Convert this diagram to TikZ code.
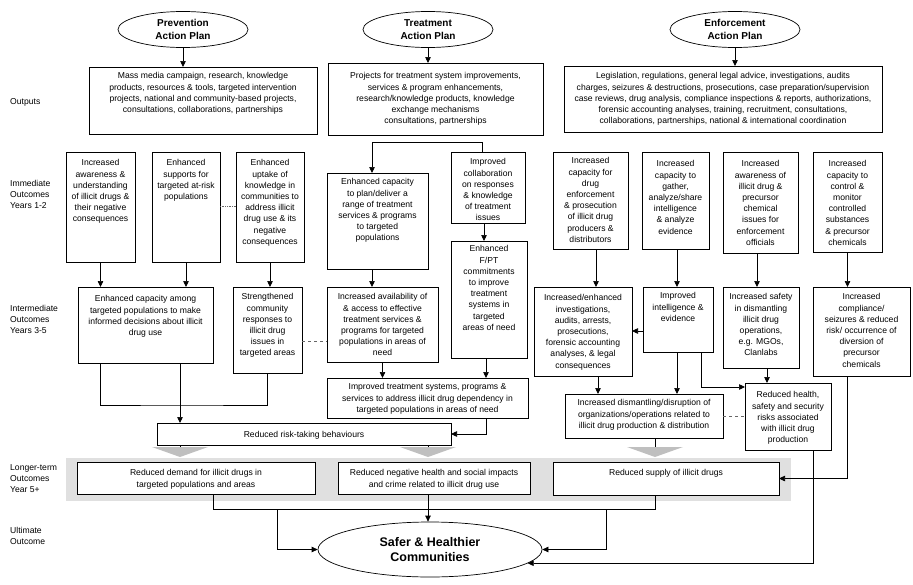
\documentclass[tikz,border=0pt]{standalone}
\usepackage{fontspec}
\setmainfont{Liberation Sans}
\usetikzlibrary{shapes.geometric,arrows.meta}

\newcommand\obox[7][4]{%
  \node[obox,anchor=north west] (#2) at (#3,#4)
    {\parbox[c][\dimexpr#6pt-#4pt\relax][t]{\dimexpr#5pt-#3pt\relax}{\centering\vspace*{#1pt}\strut#7}};}
\newcommand\chev[2]{\fill[chev] (#1-28,#2) -- (#1+28,#2) -- (#1,#2+10) -- cycle;}

\begin{document}
\begin{tikzpicture}[x=1pt,y=-1pt,font=\fontsize{8.6}{11.2}\selectfont,
  obox/.style={draw,fill=white,line width=0.7pt,inner sep=0pt,outer sep=0pt},
  plan/.style={draw,ellipse,line width=0.7pt,inner sep=0pt,minimum width=130pt,minimum height=36pt,align=center,font=\fontsize{10}{12.5}\selectfont\bfseries},
  lbl/.style={anchor=west,align=left,inner sep=0pt},
  band/.style={fill=black!12},
  chev/.style={fill=black!25},
  link/.style={line width=0.7pt},
  arr/.style={link,-{Triangle[length=6pt,width=5.5pt]}},
  dots/.style={line width=0.7pt,densely dotted,black!60},
  dashlink/.style={line width=0.7pt,dashed,black!60}]

\useasboundingbox (0,0) rectangle (913,584);
\fill[band] (66,458) rectangle (791,501);

\node[lbl] (lout) at (10,102) {Outputs};
\node[lbl] (limm) at (10,194.5) {Immediate\\Outcomes\\Years 1-2};
\node[lbl] (lint) at (10,319.5) {Intermediate\\Outcomes\\Years 3-5};
\node[lbl] (llong) at (10,478.5) {Longer-term\\Outcomes\\Year 5+};
\node[lbl] (lult) at (10,536) {Ultimate\\Outcome};

\node[plan] (pplan) at (183,29.5) {Prevention\\Action Plan};
\node[plan] (tplan) at (428,29.5) {Treatment\\Action Plan};
\node[plan] (eplan) at (735,29.5) {Enforcement\\Action Plan};

\obox{pout}{89}{67}{317}{134}{Mass media campaign, research, knowledge\\products, resources \& tools, targeted intervention\\projects, national and community-based projects,\\consultations, collaborations, partnerships}
\obox[8]{tout}{328}{63}{543}{135}{Projects for treatment system improvements,\\services \& program enhancements,\\research/knowledge products, knowledge\\exchange mechanisms\\consultations, partnerships}
\obox[5]{eout}{564}{66}{882}{132}{Legislation, regulations, general legal advice, investigations, audits\\charges, seizures \& destructions, prosecutions, case preparation/supervision\\case reviews, drug analysis, compliance inspections \& reports, authorizations,\\forensic accounting analyses, training, recruitment, consultations,\\collaborations, partnerships, national \& international coordination}

\draw[arr] (pplan.south) -- (pplan.south |- pout.north);
\draw[arr] (tplan.south) -- (tplan.south |- tout.north);
\draw[arr] (eplan.south) -- (eplan.south |- eout.north);

% prevention
\obox[6]{p1}{66}{152}{135}{262}{Increased\\awareness \&\\understanding\\of illicit drugs \&\\their negative\\consequences}
\obox[6]{p2}{152}{152}{220}{262}{Enhanced\\supports for\\targeted at-risk\\populations}
\obox[6]{p3}{236}{152}{304}{262}{Enhanced\\uptake of\\knowledge in\\communities to\\address illicit\\drug use \& its\\negative\\consequences}
\obox[7]{p4}{78}{287}{213}{363}{Enhanced capacity among\\targeted populations to make\\informed decisions about illicit\\drug use}
\obox[5]{p5}{233}{287}{302}{373}{Strengthened\\community\\responses to\\illicit drug\\issues in\\targeted areas}
\obox[7]{risk}{157}{423}{451}{445}{Reduced risk-taking behaviours}

\draw[dots] (p2.east |- 0,206) -- (p3.west |- 0,206);
\draw[arr] (p1.south) -- (p1.south |- p4.north);
\draw[arr] (p2.south) -- (p2.south |- p4.north);
\draw[arr] (p3.south) -- (p3.south |- p5.north);
\coordinate (pj) at (180,405);
\draw[link] (p4.south -| p1.south) |- (pj) -| (p5.south);
\draw[arr] (p4.south -| pj) -- (risk.north -| pj);

% treatment
\obox[4]{t1}{327}{173}{428}{269}{Enhanced capacity\\to plan/deliver a\\range of treatment\\services \& programs\\to targeted\\populations}
\obox[5]{t2}{451}{152}{525}{223}{Improved\\collaboration\\on responses\\\& knowledge\\of treatment\\issues}
\obox[3]{t3}{451}{241}{527}{358}{Enhanced\\F/PT\\commitments\\to improve\\treatment\\systems in\\targeted\\areas of need}
\obox[5]{t4}{327}{287}{438}{362}{Increased availability of\\\& access to effective\\treatment services \&\\programs for targeted\\populations in areas of\\need}
\obox[4]{t5}{327}{378}{528}{418}{Improved treatment systems, programs \&\\services to address illicit drug dependency in\\targeted populations in areas of need}

\coordinate (tfork) at (372,142);
\draw[link] (t2.north -| 482,0) |- (tfork);
\draw[arr] (tfork) -- (t1.north -| tfork);
\draw[arr] (t2.south -| 484,0) -- (t3.north -| 484,0);
\draw[arr] (t1.south -| tfork) -- (t4.north -| tfork);
\draw[arr] (t4.south) -- (t4.south |- t5.north);
\draw[arr] (t3.south -| 486,0) -- (t5.north -| 486,0);
\draw[arr] (t5.south -| 486,0) |- (risk.east);
\draw[dashlink] (p5.east |- 0,341) -- (t4.west |- 0,341);

% enforcement
\obox[4]{e1}{553}{152}{628}{249}{Increased\\capacity for\\drug\\enforcement\\\& prosecution\\of illicit drug\\producers \&\\distributors}
\obox[7]{e2}{642}{152}{709}{249}{Increased\\capacity to\\gather,\\analyze/share\\intelligence\\\& analyze\\evidence}
\obox[7]{e3}{723}{152}{798}{253}{Increased\\awareness of\\illicit drug \&\\precursor\\chemical\\issues for\\enforcement\\officials}
\obox[7]{e4}{813}{152}{882}{252}{Increased\\capacity to\\control \&\\monitor\\controlled\\substances\\\& precursor\\chemicals}
\obox[6]{e5}{534}{287}{632}{376}{Increased/enhanced\\investigations,\\audits, arrests,\\prosecutions,\\forensic accounting\\analyses, \& legal\\consequences}
\obox[4]{e6}{643}{287}{713}{352}{Improved\\intelligence \&\\evidence}
\obox[5]{e7}{723}{287}{799}{368}{Increased safety\\in dismantling\\illicit drug\\operations,\\e.g. MGOs,\\Clanlabs}
\obox[5]{e8}{813}{287}{910}{376}{Increased\\compliance/\\seizures \& reduced\\risk/ occurrence of\\diversion of\\precursor\\chemicals}
\obox[4]{e9}{565}{394}{723}{438}{Increased dismantling/disruption of\\organizations/operations related to\\illicit drug production \& distribution}
\obox[7]{h}{745}{383}{831}{450}{Reduced health,\\safety and security\\risks associated\\with illicit drug\\production}

\draw[arr] (e1.south -| 596,0) -- (e5.north -| 596,0);
\draw[arr] (e2.south -| 677,0) -- (e6.north -| 677,0);
\draw[arr] (e3.south -| 757,0) -- (e7.north -| 757,0);
\draw[arr] (e4.south) -- (e4.south |- e8.north);
\draw[arr] (e6.west |- 0,331) -- (e5.east |- 0,331);
\draw[arr] (e5.south -| 598,0) -- (e9.north -| 598,0);
\draw[arr] (e6.south -| 677,0) -- (e9.north -| 677,0);
\draw[arr] (e6.south -| 701,0) |- (h.west |- 0,387);
\draw[arr] (e7.south -| 767,0) -- (h.north -| 767,0);
\draw[dashlink] (e9.east) -- (h.west |- e9.east);

% longer-term and ultimate
\chev{180}{447}
\chev{428}{447}
\chev{655}{447}
\draw[link] (risk.south -| 180,0) -- (180,447);
\draw[link] (risk.south -| 428,0) -- (428,447);
\draw[link] (e9.south -| 655,0) -- (655,447);

\obox[6]{l1}{77}{462}{315}{494}{Reduced demand for illicit drugs in\\targeted populations and areas}
\obox[6]{l2}{338}{462}{530}{494}{Reduced negative health and social impacts\\and crime related to illicit drug use}
\obox[6]{l3}{553}{462}{779}{495}{Reduced supply of illicit drugs}

\node[draw,ellipse,line width=0.7pt,inner sep=0pt,minimum width=224pt,minimum height=55pt,align=center,font=\fontsize{12.5}{15}\selectfont\bfseries] (safe) at (430,549.5) {Safer \& Healthier\\Communities};

\draw[arr] (e8.south -| e4.south) |- (l3.east);
\coordinate (bj) at (428,509);
\coordinate (bl) at (277,509);
\coordinate (br) at (606,509);
\draw[link] (l1.south -| 213,0) |- (bj);
\draw[link] (l3.south -| 655,0) |- (bj);
\draw[arr] (l2.south -| bj) -- (safe.north -| bj);
\draw[arr] (bl) |- (safe.west);
\draw[arr] (br) |- (safe.east);
\draw[arr] (h.south -| 813,0) |- (safe.-8);

\end{tikzpicture}
\end{document}
